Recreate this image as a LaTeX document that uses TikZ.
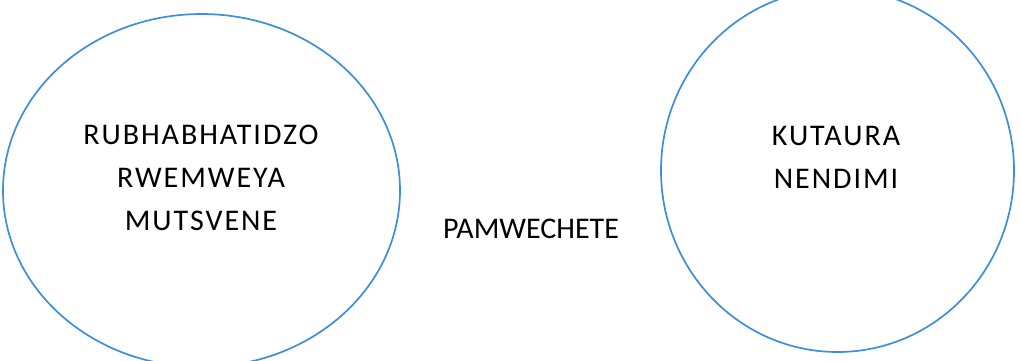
\documentclass[tikz,border=0pt]{standalone}
\usepackage{fontspec}
\setmainfont{Carlito}
\newfontfamily\spacedfont[LetterSpace=6.5]{Carlito}
\definecolor{ringblue}{HTML}{3E8EDE}
\begin{document}
\begin{tikzpicture}[x=1pt,y=-1pt,
  ring/.style={draw=ringblue,line width=1.7pt},
  label/.style={font=\fontsize{30}{43}\selectfont\spacedfont,align=center,text=black},
  mid/.style={font=\fontsize{30}{36}\selectfont,text=black}]
\useasboundingbox (0,0) rectangle (1021,360);
\begin{scope}
\clip (0,0) rectangle (1021,360);
\draw[ring] (201.5,190.5) ellipse [x radius=198.5, y radius=176.5];
\draw[ring] (837.5,170.5) ellipse [x radius=176.5, y radius=181.5];
\end{scope}
\node[label] (left) at (201,178) {RUBHABHATIDZO\\RWEMWEYA\\MUTSVENE};
\node[label] (right) at (836,157) {KUTAURA\\NENDIMI};
\node[mid] (mid) at (531,229) {PAMWECHETE};
\end{tikzpicture}
\end{document}
